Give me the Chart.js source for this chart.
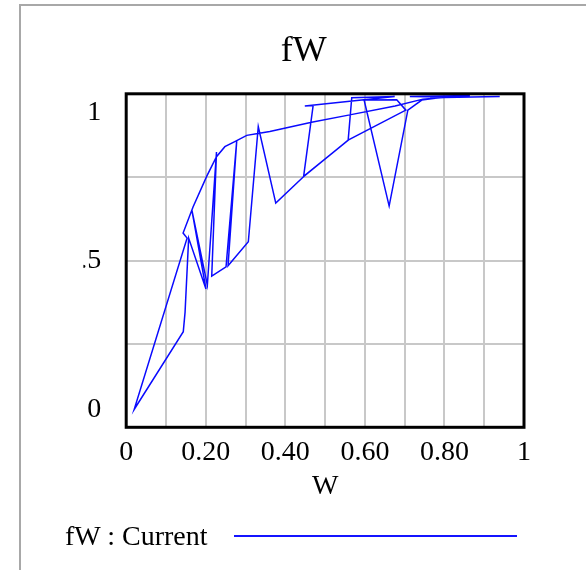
<!DOCTYPE html>
<html>
<head>
<meta charset="utf-8">
<script src="https://cdn.jsdelivr.net/npm/chart.js@4.4.0/dist/chart.umd.min.js"></script>
<style>
  html, body { margin: 0; padding: 0; background: #fff; overflow: hidden; }
  #wrap { position: relative; width: 586px; height: 570px; overflow: hidden; }
  #frame { position: absolute; left: 19px; top: 4px; width: 640px; height: 640px; border: 2px solid #a8a8a8; }
  #myChart { position: absolute; left: 0; top: 0; }
  #legend { position: absolute; left: 65px; top: 519px; font: 28px 'Liberation Serif', serif; line-height: 34px; color: #000; white-space: nowrap; }
  #legendLine { position: absolute; left: 234px; top: 535px; width: 283px; height: 2px; background: #1414ff; }
</style>
</head>
<body>
<div id="wrap">
  <div id="frame"></div>
  <canvas id="myChart" width="586" height="570"></canvas>
  <div id="legend">fW : Current</div>
  <div id="legendLine"></div>
</div>
<script>
  const chartTitle = 'fW';
  const xAxisTitle = 'W';

  // W (x) and fW (y), in the order the run traces them
  const wValues = [
    0.864, 0.789, 0.746, 0.676, 0.562, 0.466, 0.361, 0.331, 0.303, 0.273,
    0.248, 0.227, 0.202, 0.168, 0.143, 0.153, 0.020, 0.1435, 0.148, 0.157,
    0.2005, 0.165, 0.204, 0.227, 0.215, 0.251, 0.278, 0.256, 0.307, 0.332,
    0.376, 0.445, 0.558, 0.567, 0.675, 0.449, 0.470, 0.446, 0.559, 0.703,
    0.680, 0.598, 0.661, 0.708, 0.743, 0.801, 0.713, 0.864, 0.764, 0.939
  ];
  const fwValues = [
    1.056, 1.050, 1.045, 1.022, 0.992, 0.967, 0.936, 0.929, 0.923, 0.902,
    0.885, 0.851, 0.784, 0.682, 0.594, 0.577, 0.000, 0.262, 0.328, 0.577,
    0.406, 0.672, 0.419, 0.867, 0.449, 0.480, 0.907, 0.484, 0.565, 0.953,
    0.695, 0.783, 0.907, 1.050, 1.054, 1.022, 1.024, 0.785, 0.908, 1.008,
    1.043, 1.042, 0.685, 1.008, 1.042, 1.052, 1.054, 1.057, 1.050, 1.054
  ];

  const xTickLabels = ['0', '0.20', '0.40', '0.60', '0.80', '1'];
  const yTickValues = [0, 0.5, 1];
  const yTickLabels = ['0', '.5', '1'];
  const yGridValues = [0.221, 0.5015, 0.782];
  const yMin = -0.06;
  const yMax = 1.063;

  const serif = 'Liberation Serif';
  const gridGrey = '#c8c8c8';

  // black box round the plot area
  const plotFrame = {
    id: 'plotFrame',
    afterDatasetsDraw(chart) {
      const a = chart.chartArea;
      const ctx = chart.ctx;
      ctx.save();
      ctx.strokeStyle = '#000';
      ctx.lineWidth = 3;
      ctx.strokeRect(a.left, a.top, a.right - a.left, a.bottom - a.top);
      ctx.restore();
    }
  };

  const points = wValues.map(function (w, i) {
    return { x: w, y: fwValues[i] };
  });

  const ctx = document.getElementById('myChart').getContext('2d');
  const chart = new Chart(ctx, {
    type: 'line',
    data: {
      datasets: [{
        label: 'fW : Current',
        data: points,
        borderColor: '#0a0aff',
        borderWidth: 1.5,
        pointRadius: 0,
        tension: 0,
        fill: false,
      }],
    },
    options: {
      responsive: false,
      animation: false,
      devicePixelRatio: 1,
      layout: {
        padding: { left: 83.4, right: 62, top: 0, bottom: 62.7 },
      },
      plugins: {
        legend: { display: false },
        tooltip: { enabled: false },
        title: {
          display: true,
          text: chartTitle,
          color: '#000',
          font: { family: serif, size: 36, weight: 'normal' },
          padding: { top: 30, bottom: 20.6 },
        },
      },
      scales: {
        x: {
          type: 'linear',
          min: 0,
          max: 1,
          afterFit: function (scale) { scale.height = 80; },
          border: { display: false },
          grid: { color: gridGrey, lineWidth: 2, drawTicks: false },
          ticks: {
            stepSize: 0.1,
            autoSkip: false,
            maxRotation: 0,
            padding: 8.6,
            color: '#000',
            font: { family: serif, size: 28 },
            callback: function (value, index) {
              return index % 2 === 0 ? xTickLabels[index / 2] : '';
            },
          },
          title: {
            display: true,
            text: xAxisTitle,
            color: '#000',
            font: { family: serif, size: 28 },
            padding: { top: 0, bottom: 3.5 },
          },
        },
        y: {
          type: 'linear',
          min: yMin,
          max: yMax,
          afterFit: function (scale) { scale.width = 42.8; },
          afterBuildTicks: function (scale) {
            scale.ticks = yGridValues.concat(yTickValues)
              .sort(function (a, b) { return a - b; })
              .map(function (v) { return { value: v }; });
          },
          border: { display: false },
          grid: {
            drawTicks: false,
            lineWidth: 2,
            color: function (c) {
              return c.tick && yGridValues.includes(c.tick.value) ? gridGrey : 'rgba(0,0,0,0)';
            },
          },
          ticks: {
            autoSkip: false,
            padding: 25,
            color: '#000',
            font: { family: serif, size: 28 },
            callback: function (value) {
              const i = yTickValues.indexOf(value);
              return i >= 0 ? yTickLabels[i] : '';
            },
          },
        },
      },
    },
    plugins: [plotFrame],
  });
</script>
</body>
</html>
